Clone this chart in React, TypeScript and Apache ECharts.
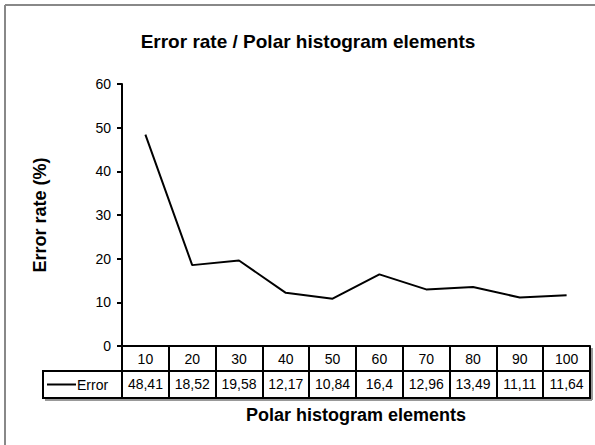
import React, { useEffect, useRef } from "react";
import * as echarts from "echarts";

const categories = ["10", "20", "30", "40", "50", "60", "70", "80", "90", "100"];
const errorValues = [48.41, 18.52, 19.58, 12.17, 10.84, 16.4, 12.96, 13.49, 11.11, 11.64];
const valueLabels = ["48,41", "18,52", "19,58", "12,17", "10,84", "16,4", "12,96", "13,49", "11,11", "11,64"];
const seriesName = "Error";

const FONT = "'Liberation Sans', Arial, sans-serif";

export default function App() {
  const ref = useRef<HTMLDivElement>(null);
  useEffect(() => {
    if (!ref.current) return;
    const chart = echarts.init(ref.current, undefined, { renderer: "svg" });
    const gridLeft = 122;
    const gridRight = 5;
    const gridTop = 84;
    const gridBottom = 99;
    const W = 595;
    const H = 445;
    const axisY = H - gridBottom;
    const tableLeft = 43;
    const tableRight = W - gridRight;
    const rowH = 25;
    const dataRowH = 27;
    chart.setOption({
      animation: false,
      backgroundColor: "#fff",
      textStyle: { fontFamily: FONT },
      title: {
        text: "Error rate / Polar histogram elements",
        left: 303,
        top: 27,
        textAlign: "center",
        textStyle: { fontFamily: FONT, fontSize: 19, fontWeight: "bold", color: "#000" },
      },
      grid: { left: gridLeft, right: gridRight, top: gridTop, bottom: gridBottom, containLabel: false },
      xAxis: [
        {
          type: "category",
          data: categories,
          boundaryGap: true,
          position: "bottom",
          axisLine: { show: true, lineStyle: { color: "#000", width: 2 } },
          axisTick: { show: true, length: rowH + dataRowH, interval: 0, lineStyle: { color: "#000", width: 2 } },
          axisLabel: { interval: 0, margin: 6, fontSize: 14, color: "#000", fontFamily: FONT },
          name: "Polar histogram elements",
          nameLocation: "middle",
          nameGap: 60,
          nameTextStyle: { fontFamily: FONT, fontSize: 18, fontWeight: "bold", color: "#000" },
          splitLine: { show: false },
        },
        {
          type: "category",
          data: valueLabels,
          boundaryGap: true,
          position: "bottom",
          axisLine: { show: false },
          axisTick: { show: false },
          axisLabel: { interval: 0, margin: rowH + 6, fontSize: 14, color: "#000", fontFamily: FONT },
          splitLine: { show: false },
        },
      ],
      yAxis: {
        type: "value",
        min: 0,
        max: 60,
        interval: 10,
        axisLine: { show: true, lineStyle: { color: "#000", width: 2 } },
        axisTick: { show: true, length: 5, lineStyle: { color: "#000", width: 2 } },
        axisLabel: { fontSize: 14, color: "#000", margin: 11, fontFamily: FONT },
        splitLine: { show: false },
        name: "Error rate (%)",
        nameLocation: "middle",
        nameGap: 73,
        nameRotate: 90,
        nameTextStyle: { fontFamily: FONT, fontSize: 18, fontWeight: "bold", color: "#000" },
      },
      series: [
        {
          name: seriesName,
          type: "line",
          xAxisIndex: 0,
          data: errorValues,
          symbol: "none",
          lineStyle: { color: "#000", width: 2 },
        },
      ],
      graphic: [
        { type: "line", shape: { x1: 5, y1: 5, x2: 5, y2: H }, style: { stroke: "#888", lineWidth: 2 } },
        { type: "line", shape: { x1: 5, y1: 5, x2: W, y2: 5 }, style: { stroke: "#888", lineWidth: 2 } },
        {
          type: "line",
          shape: { x1: tableLeft + 2, y1: axisY + rowH + dataRowH + 2, x2: tableRight + 2, y2: axisY + rowH + dataRowH + 2 },
          style: { stroke: "#999", lineWidth: 2 },
        },
        {
          type: "line",
          shape: { x1: tableRight + 2, y1: axisY + 2, x2: tableRight + 2, y2: axisY + rowH + dataRowH + 2 },
          style: { stroke: "#999", lineWidth: 2 },
        },
        {
          type: "rect",
          shape: { x: tableLeft, y: axisY + rowH, width: tableRight - tableLeft, height: dataRowH },
          style: { fill: "none", stroke: "#000", lineWidth: 2 },
        },
        {
          type: "line",
          shape: { x1: 47, y1: axisY + rowH + dataRowH / 2, x2: 76, y2: axisY + rowH + dataRowH / 2 },
          style: { stroke: "#000", lineWidth: 2 },
        },
        {
          type: "text",
          x: 77,
          y: axisY + rowH + dataRowH / 2,
          style: { text: seriesName, fontFamily: FONT, fontSize: 14, fill: "#000", verticalAlign: "middle" },
        },
      ],
    });
    return () => chart.dispose();
  }, []);
  return <div ref={ref} style={{ position: "fixed", left: 0, top: 0, width: 595, height: 445 }} />;
}
